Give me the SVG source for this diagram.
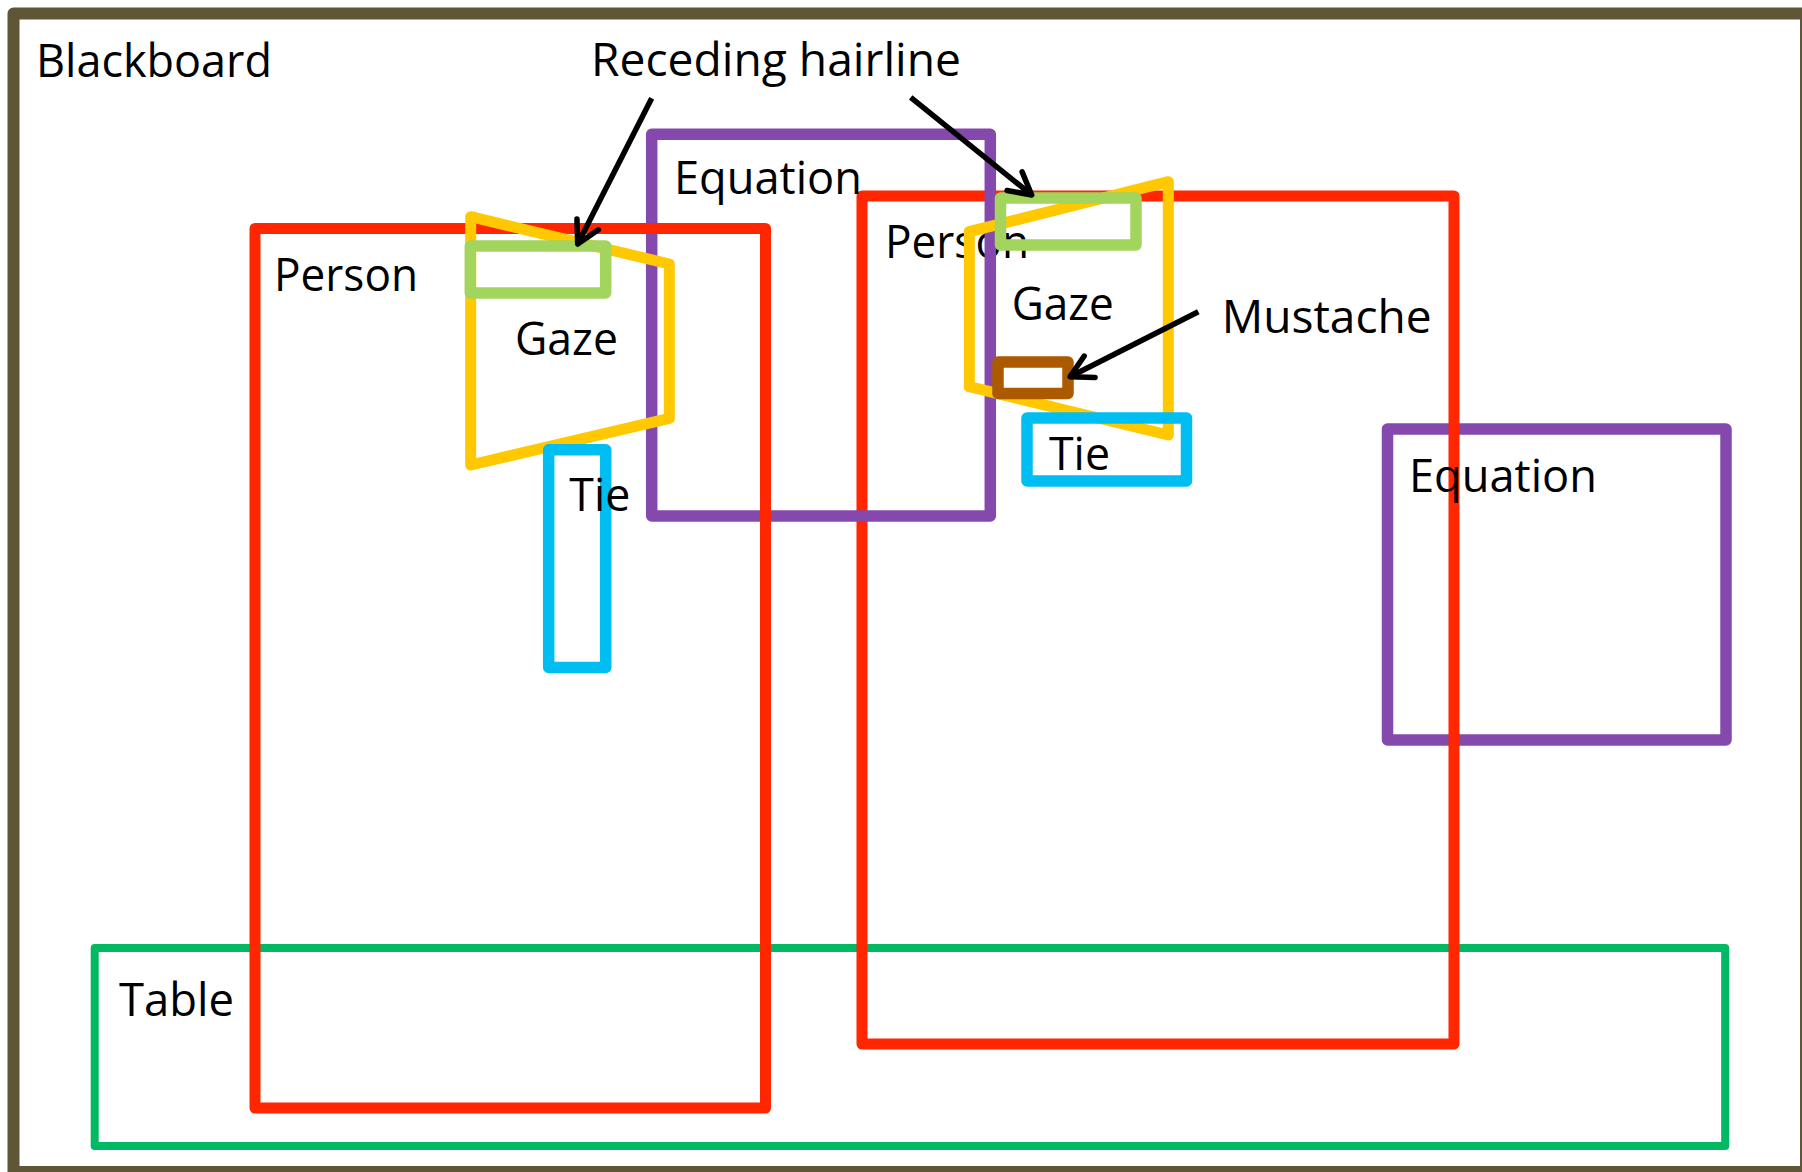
<svg xmlns="http://www.w3.org/2000/svg" width="1802" height="1172" viewBox="0 0 1802 1172">
<style>
.box{fill:none;stroke-linejoin:round}
.frame{stroke:#5f5637;stroke-width:12}
.person{stroke:#ff2600;stroke-width:11}
.eq{stroke:#8549ae;stroke-width:11.5}
.gaze{stroke:#ffc800;stroke-width:11}
.hair{stroke:#a2d45e;stroke-width:11.5}
.tie{stroke:#00bef2;stroke-width:11.5}
.must{stroke:#ab5a00;stroke-width:11.5}
.table{stroke:#00b962;stroke-width:8}
.lbl{font-family:"Open Sans","Noto Sans",sans-serif;font-size:46px;fill:#000}
.conn{fill:none;stroke:#000;stroke-width:5.5;marker-end:url(#arr)}
</style>
<defs>
<marker id="arr" markerUnits="userSpaceOnUse" orient="auto" refX="0" refY="0" markerWidth="40" markerHeight="40" overflow="visible">
<path d="M -22 -12 L 0 0 L -22 12" fill="none" stroke="#000" stroke-width="5.5" stroke-linejoin="round" stroke-linecap="round"/>
</marker>
</defs>
<rect width="1802" height="1172" fill="#fff"/>
<g id="blackboard">
<rect class="box frame" x="13.5" y="13.5" width="1792.5" height="1158.5"/>
<text class="lbl" x="36" y="77" textLength="236" lengthAdjust="spacingAndGlyphs">Blackboard</text>
</g>
<g id="table">
<rect class="box table" x="94.7" y="948" width="1630.5" height="198"/>
<text class="lbl" x="119" y="1016" textLength="115" lengthAdjust="spacingAndGlyphs">Table</text>
</g>
<g id="equation2">
<rect class="box eq" x="1387.5" y="429" width="338.5" height="311"/>
</g>
<g id="person2">
<rect class="box person" x="862" y="196" width="592" height="848"/>
<text class="lbl" x="885" y="258" textLength="144" lengthAdjust="spacingAndGlyphs">Person</text>
</g>
<g id="equation2-label">
<text class="lbl" x="1409" y="492" textLength="188" lengthAdjust="spacingAndGlyphs">Equation</text>
</g>
<g id="equation1">
<rect class="box eq" x="651.7" y="134.3" width="338.6" height="381.7"/>
<text class="lbl" x="674" y="194" textLength="188" lengthAdjust="spacingAndGlyphs">Equation</text>
</g>
<g id="person1">
<rect class="box person" x="255" y="228.5" width="510.5" height="879.5"/>
<text class="lbl" x="274" y="291" textLength="144" lengthAdjust="spacingAndGlyphs">Person</text>
</g>
<g id="gaze1">
<polygon class="box gaze" points="470.7,216.7 669.3,264 669.3,418.3 470.7,465"/>
<text class="lbl" x="515" y="355" textLength="103" lengthAdjust="spacingAndGlyphs">Gaze</text>
</g>
<g id="hairline1">
<rect class="box hair" x="470.3" y="246" width="135.4" height="47"/>
</g>
<g id="tie1">
<rect class="box tie" x="548.7" y="449.8" width="57" height="217.7"/>
<text class="lbl" x="569.3" y="511" textLength="61" lengthAdjust="spacingAndGlyphs">Tie</text>
</g>
<g id="gaze2">
<polygon class="box gaze" points="969.3,231.7 1168.3,181.7 1168.3,435 969.3,386.7"/>
<text class="lbl" x="1011.7" y="320" textLength="102" lengthAdjust="spacingAndGlyphs">Gaze</text>
</g>
<g id="hairline2">
<rect class="box hair" x="1000.5" y="198" width="135.5" height="47"/>
</g>
<g id="mustache">
<rect class="box must" x="998" y="362" width="70" height="31.5"/>
</g>
<g id="tie2">
<rect class="box tie" x="1027" y="418" width="159.5" height="63"/>
<text class="lbl" x="1049" y="470" textLength="61" lengthAdjust="spacingAndGlyphs">Tie</text>
</g>
<g id="receding-hairline-label">
<text class="lbl" x="591" y="76" textLength="370" lengthAdjust="spacingAndGlyphs">Receding hairline</text>
</g>
<g id="mustache-label">
<text class="lbl" x="1221.7" y="332.7" textLength="210" lengthAdjust="spacingAndGlyphs">Mustache</text>
</g>
<g id="connectors">
<line class="conn" x1="651.7" y1="98.3" x2="577.7" y2="244"/>
<line class="conn" x1="910.7" y1="97.3" x2="1031.7" y2="195"/>
<line class="conn" x1="1198.3" y1="311.7" x2="1070" y2="376.7"/>
</g>
</svg>
